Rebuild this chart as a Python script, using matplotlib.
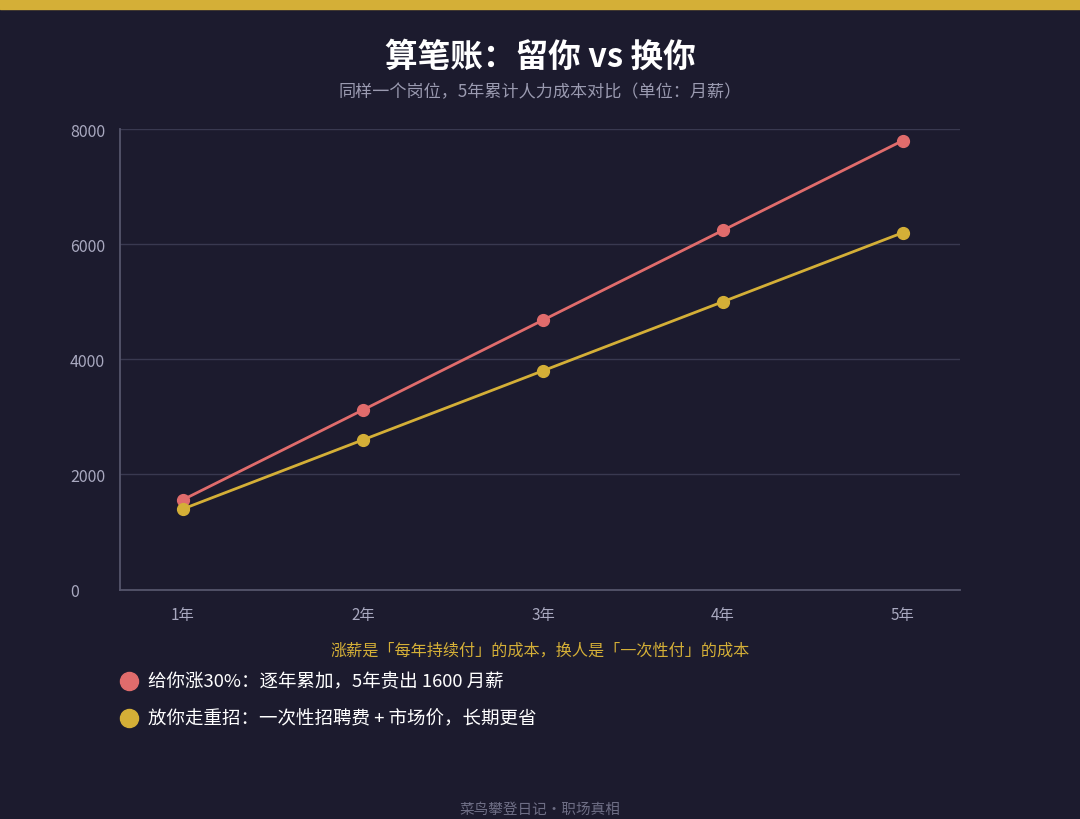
import matplotlib
matplotlib.use("Agg")
import matplotlib.pyplot as plt
import matplotlib.transforms as mtransforms
from matplotlib.lines import Line2D

plt.rcParams['font.family'] = ['Noto Sans CJK SC', 'DejaVu Sans']

years = ["1年", "2年", "3年", "4年", "5年"]
raise_cost = [1560, 3120, 4680, 6240, 7800]
replace_cost = [1400, 2600, 3800, 5000, 6200]
y_ticks = [0, 2000, 4000, 6000, 8000]
series_labels = ["给你涨30%：逐年累加，5年贵出 1600 月薪",
                 "放你走重招：一次性招聘费 + 市场价，长期更省"]

BG = "#1c1b2e"
GOLD = "#d4af37"
RED = "#e06c6c"
GRID = "#393950"
TICK = "#a9a9c0"

fig = plt.figure(figsize=(10.8, 8.2), dpi=100, facecolor=BG)

# top gold band
fig.patches.append(plt.Rectangle((0, 1 - 10/820), 1, 10/820, transform=fig.transFigure,
                                 color=GOLD, zorder=0))

ax = fig.add_axes([120/1080, 1 - 590.5/820, 840/1080, 460.5/820], facecolor=BG)
x = list(range(1, len(years) + 1))
ax.plot(x, raise_cost, color=RED, lw=2.0, marker='o', ms=8.5, zorder=3, clip_on=False)
ax.plot(x, replace_cost, color=GOLD, lw=2.0, marker='o', ms=8.5, zorder=3, clip_on=False)

ax.set_xlim(0.65, 5.317)
ax.set_ylim(0, 8000)
ax.set_yticks(y_ticks)
ax.set_yticklabels([])
ax.tick_params(axis='y', length=0)
ax.set_xticks(x)
ax.set_xticklabels(years, color=TICK, fontsize=11)
ax.tick_params(axis='x', length=0, pad=12)
for t in y_ticks[1:]:
    ax.axhline(t, color=GRID, lw=1.0, zorder=1)
trans = mtransforms.blended_transform_factory(fig.transFigure, ax.transData)
trans = trans + mtransforms.ScaledTranslation(0, -2.5/100, fig.dpi_scale_trans)
for t in y_ticks:
    ax.text(70/1080, t, str(t), transform=trans, ha='left', va='center',
            color=TICK, fontsize=11.5)
for s in ['top', 'right']:
    ax.spines[s].set_visible(False)
for s in ['left', 'bottom']:
    ax.spines[s].set_color("#55556c")
    ax.spines[s].set_linewidth(1.3)

fig.text(0.5, 1 - 57/820, "算笔账：留你 vs 换你", ha='center', va='center',
         color='white', fontsize=23.5, fontweight='bold')
fig.text(0.5, 1 - 92/820, "同样一个岗位，5年累计人力成本对比（单位：月薪）", ha='center',
         va='center', color="#9a9ab0", fontsize=12.3)

fig.text(540/1080, 1 - 651/820, "涨薪是「每年持续付」的成本，换人是「一次性付」的成本",
         ha='center', va='center', color=GOLD, fontsize=11.6)

for i, (lab, col) in enumerate(zip(series_labels, [RED, GOLD])):
    yy = 1 - (682 + 37 * i) / 820
    fig.add_artist(Line2D([129/1080], [yy], marker='o', ms=13,
                          color=col, transform=fig.transFigure))
    fig.text(148/1080, yy, lab, ha='left', va='center', color='white', fontsize=13.3)

fig.text(0.5, 1 - 810/820, "菜鸟攀登日记·职场真相", ha='center', va='center',
         color="#6e6e85", fontsize=10.5)

fig.savefig("out.png", dpi=100, facecolor=BG)
